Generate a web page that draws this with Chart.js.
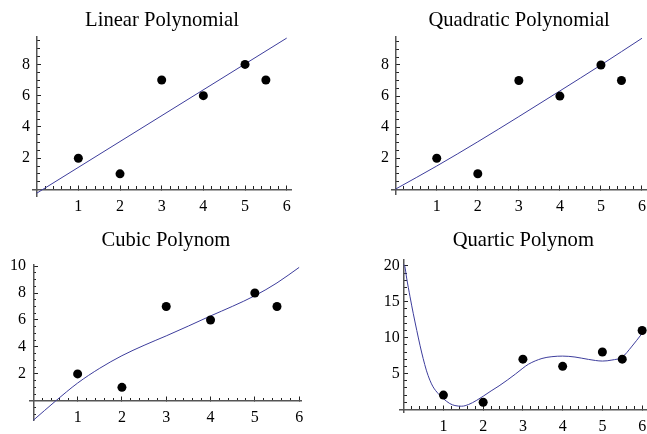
<!DOCTYPE html>
<html>
<head>
<meta charset="utf-8">
<script src="https://cdn.jsdelivr.net/npm/chart.js@4/dist/chart.umd.min.js"></script>
<style>
  html, body { margin: 0; padding: 0; background: #fff; }
  body { position: relative; width: 647px; height: 434px; overflow: hidden; }
  .panel { position: absolute; overflow: hidden; }
</style>
</head>
<body>
<div class="panel" style="left:0;top:0;width:323px;height:217px"><canvas id="c1" width="323" height="217"></canvas></div>
<div class="panel" style="left:323px;top:0;width:324px;height:217px"><canvas id="c2" width="360" height="217"></canvas></div>
<div class="panel" style="left:0;top:217px;width:323px;height:217px"><canvas id="c3" width="323" height="217"></canvas></div>
<div class="panel" style="left:323px;top:217px;width:324px;height:217px"><canvas id="c4" width="360" height="217"></canvas></div>
<script>
// data points
const pointX = [1, 2, 3, 4, 5, 5.5]
const pointY = [2, 1, 7, 6, 8, 7]
const quarticPointX = [1, 2, 3, 4, 5, 5.5, 6]
const quarticPointY = [2, 1, 7, 6, 8, 7, 11]

// fitted curves
const linearX = [0, 6]
const linearY = [-0.24, 9.68]
const quadraticX = [0, 1, 2, 3, 4, 5, 6]
const quadraticY = [0.02, 1.5, 3.06, 4.68, 6.33, 8.0, 9.72]
const cubicX = [0, 0.5, 1, 1.5, 2, 2.5, 3, 3.5, 4, 4.5, 5, 5.5, 6]
const cubicY = [-1.44, -0.02, 1.32, 2.42, 3.35, 4.12, 4.82, 5.55, 6.3, 7.02, 7.8, 8.75, 9.9]
const quarticX = [0, 0.03, 0.075, 0.16, 0.24, 0.33, 0.41, 0.49, 0.57, 0.66, 0.74, 0.87, 1.0, 1.16, 1.29, 1.46, 1.63, 1.84, 2.0, 2.2, 2.4, 2.81, 3.0, 3.14, 3.48, 3.73, 4.0, 4.31, 4.65, 5.0, 5.24, 5.5, 5.73, 6.0]
const quarticY = [20.2, 19.9, 18.3, 15.7, 13.4, 11.0, 8.95, 7.1, 5.47, 4.07, 3.14, 2.2, 1.5, 0.82, 0.54, 0.45, 0.68, 1.28, 1.84, 2.58, 3.28, 4.92, 5.75, 6.3, 7.1, 7.35, 7.43, 7.3, 6.97, 6.74, 6.88, 7.3, 8.7, 10.6]

// titles and ticks
const titles = ["Linear Polynomial", "Quadratic Polynomial", "Cubic Polynom", "Quartic Polynom"]
const xTicks = [1, 2, 3, 4, 5, 6]
const yTicksLow = [2, 4, 6, 8]
const yTicksCubic = [2, 4, 6, 8, 10]
const yTicksQuartic = [5, 10, 15, 20]

const serif = "'Liberation Serif', 'Times New Roman', serif"
const tickFont = { family: serif, size: 16 }
const labelBoxWidth = 30
const toXY = (xs, ys) => xs.map((x, i) => ({ x: x, y: ys[i] }))

const makePanel = (id, p) => {
    const ctx = document.getElementById(id).getContext("2d")
    // axis line + major tick marks, crossing at the origin
    const major = (axis, ticks, min, max, pos, showLabels) => ({
        type: "linear",
        axis: axis,
        position: pos,
        min: min,
        max: max,
        afterBuildTicks: s => { s.ticks = ticks.map(v => ({ value: v })) },
        ticks: { display: showLabels, font: tickFont, color: "#000", padding: 12.5, autoSkip: false, maxRotation: 0 },
        grid: { drawOnChartArea: false, drawTicks: true, tickLength: -5, tickColor: "#222", tickWidth: 1 },
        border: { display: true, color: "#555", width: 1.5 }
    })
    const minor = (axis, step, min, max, pos) => ({
        type: "linear",
        axis: axis,
        position: pos,
        min: min,
        max: max,
        ticks: { display: false, stepSize: step, includeBounds: false },
        grid: { drawOnChartArea: false, drawTicks: true, tickLength: -3, tickColor: "#222", tickWidth: 1 },
        border: { display: false }
    })
    return new Chart(ctx, {
        type: "scatter",
        data: {
            datasets: [
                {
                    data: toXY(p.px, p.py),
                    showLine: false,
                    pointRadius: 4.5,
                    pointHoverRadius: 4.5,
                    backgroundColor: "#000",
                    borderWidth: 0,
                    clip: false
                },
                {
                    data: toXY(p.cx, p.cy),
                    showLine: true,
                    pointRadius: 0,
                    borderColor: "#3d3d9c",
                    borderWidth: 1,
                    cubicInterpolationMode: "monotone",
                    clip: false
                }
            ]
        },
        options: {
            responsive: false,
            animation: false,
            layout: { padding: { left: p.left - labelBoxWidth, right: p.right, top: 0, bottom: p.bottom } },
            plugins: {
                legend: { display: false },
                tooltip: { enabled: false },
                title: {
                    display: true,
                    text: p.title,
                    fullSize: false,
                    color: "#000",
                    font: { family: serif, size: 20.6, weight: "normal", lineHeight: 1.2 },
                    padding: p.titlePad
                }
            },
            scales: {
                x: major("x", xTicks, p.xr[0], p.xr[1], { y: 0 }, true),
                y: major("y", p.yt, p.yr[0], p.yr[1], { x: 0 }, false),
                xMinor: minor("x", 0.2, p.xr[0], p.xr[1], { y: 0 }),
                yMinor: minor("y", p.ys, p.yr[0], p.yr[1], { x: 0 }),
                // y tick labels, set just left of the vertical axis
                yLabels: {
                    type: "linear",
                    axis: "y",
                    position: "left",
                    min: p.yr[0],
                    max: p.yr[1],
                    afterBuildTicks: s => { s.ticks = p.yt.map(v => ({ value: v })) },
                    afterFit: s => { s.width = labelBoxWidth },
                    ticks: { font: tickFont, color: "#000", padding: p.labGap, autoSkip: false },
                    grid: { display: false, drawTicks: false },
                    border: { display: false }
                }
            }
        }
    })
}

makePanel("c1", {
    title: titles[0], px: pointX, py: pointY, cx: linearX, cy: linearY,
    xr: [-0.105, 6.12], yr: [-0.43, 9.77], yt: yTicksLow, ys: 0.5, labGap: 2.3,
    left: 32.3, right: 31.3, bottom: 20.8,
    titlePad: { top: 8, bottom: 3.98 }
})
makePanel("c2", {
    title: titles[1], px: pointX, py: pointY, cx: quadraticX, cy: quadraticY,
    xr: [-0.107, 6.12], yr: [-0.3, 9.82], yt: yTicksLow, ys: 0.5, labGap: 2.3,
    left: 68.3, right: 36.1, bottom: 23,
    titlePad: { top: 8, bottom: 3.98 }
})
makePanel("c3", {
    title: titles[2], px: pointX, py: pointY, cx: cubicX, cy: cubicY,
    xr: [-0.075, 6.06], yr: [-1.45, 10.1], yt: yTicksCubic, ys: 0.5, labGap: 4,
    left: 30, right: 21.2, bottom: 3.7,
    titlePad: { top: 11.4, bottom: 11.58 }
})
makePanel("c4", {
    title: titles[3], px: quarticPointX, py: quarticPointY, cx: quarticX, cy: quarticY,
    xr: [-0.1, 6.12], yr: [-0.4, 20.86], yt: yTicksQuartic, ys: 1, labGap: 0,
    left: 76.7, right: 36.1, bottom: 21.7,
    titlePad: { top: 11.4, bottom: 6.58 }
})
</script>
</body>
</html>
